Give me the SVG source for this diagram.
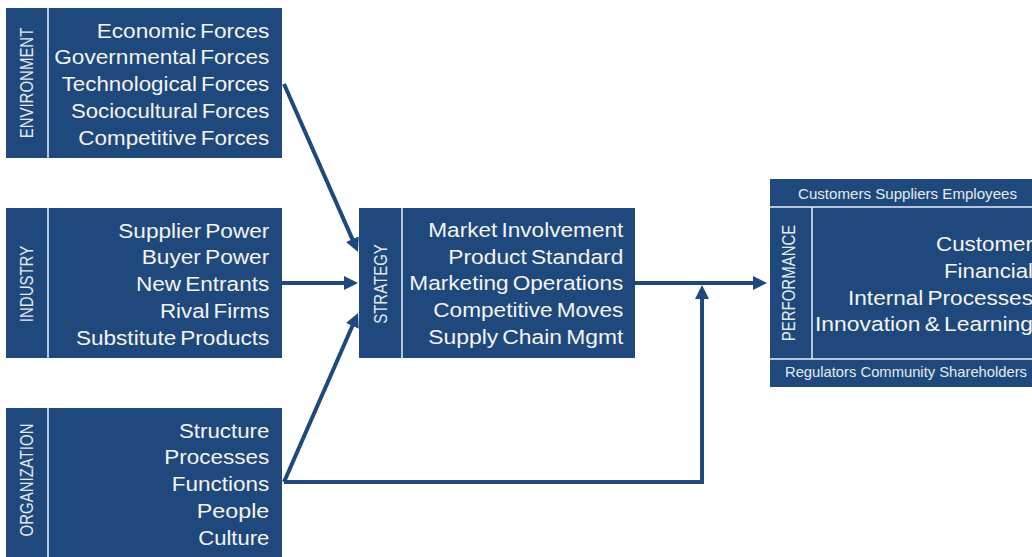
<svg xmlns="http://www.w3.org/2000/svg" width="1032" height="557" viewBox="0 0 1032 557">
<defs>
<style>
.box{fill:#1F497D;}
.div{stroke:#e8eef5;stroke-width:1.5;}
.t{font-family:"Liberation Sans",Arial,sans-serif;font-size:20.5px;fill:#f4f4f4;text-anchor:end;word-spacing:-2px;}
.v{font-family:"Liberation Sans",Arial,sans-serif;font-size:15px;fill:#e4e9f0;text-anchor:middle;}
.s{font-family:"Liberation Sans",Arial,sans-serif;font-size:14.5px;fill:#e4e9f0;text-anchor:middle;}
.c{fill:none;stroke:#1F497D;stroke-width:4;stroke-linejoin:miter;}
</style>
<marker id="ah" markerUnits="userSpaceOnUse" markerWidth="16" markerHeight="16" refX="4" refY="7" orient="auto">
<path d="M0,0 L14,7 L0,14 z" fill="#1F497D"/>
</marker>
</defs>
<rect width="1032" height="557" fill="#ffffff"/>

<g id="connectors">
<path class="c" d="M284,84 L354,242.9" marker-end="url(#ah)"/>
<path class="c" d="M282,283 L348,283" marker-end="url(#ah)"/>
<path class="c" d="M284,482 L354,322.2" marker-end="url(#ah)"/>
<path class="c" d="M635,283 L757,283" marker-end="url(#ah)"/>
<path class="c" d="M284,482 L702,482 L702,295" marker-end="url(#ah)"/>
</g>

<g id="environment">
<rect class="box" x="6" y="8" width="276" height="150"/>
<line class="div" x1="48" y1="8" x2="48" y2="158"/>
<text class="v" transform="translate(33,83) scale(1.2,1) rotate(-90)">ENVIRONMENT</text>
<text class="t" x="269.3" y="37.5" textLength="172.6" lengthAdjust="spacingAndGlyphs">Economic Forces</text>
<text class="t" x="269.3" y="64.3" textLength="215" lengthAdjust="spacingAndGlyphs">Governmental Forces</text>
<text class="t" x="269.3" y="91" textLength="207.6" lengthAdjust="spacingAndGlyphs">Technological Forces</text>
<text class="t" x="269.3" y="117.8" textLength="198.3" lengthAdjust="spacingAndGlyphs">Sociocultural Forces</text>
<text class="t" x="269.3" y="144.6" textLength="191" lengthAdjust="spacingAndGlyphs">Competitive Forces</text>
</g>

<g id="industry">
<rect class="box" x="6" y="208" width="276" height="150"/>
<line class="div" x1="48" y1="208" x2="48" y2="358"/>
<text class="v" transform="translate(33,284) scale(1.2,1) rotate(-90)">INDUSTRY</text>
<text class="t" x="269.3" y="237.5" textLength="151" lengthAdjust="spacingAndGlyphs">Supplier Power</text>
<text class="t" x="269.3" y="264.3" textLength="127.6" lengthAdjust="spacingAndGlyphs">Buyer Power</text>
<text class="t" x="269.3" y="291" textLength="133.3" lengthAdjust="spacingAndGlyphs">New Entrants</text>
<text class="t" x="269.3" y="317.8" textLength="109.3" lengthAdjust="spacingAndGlyphs">Rival Firms</text>
<text class="t" x="269.3" y="344.6" textLength="193.3" lengthAdjust="spacingAndGlyphs">Substitute Products</text>
</g>

<g id="organization">
<rect class="box" x="6" y="408" width="276" height="160"/>
<line class="div" x1="48" y1="408" x2="48" y2="557"/>
<text class="v" transform="translate(33,480) scale(1.2,1) rotate(-90)">ORGANIZATION</text>
<text class="t" x="269.3" y="437.5" textLength="90.3" lengthAdjust="spacingAndGlyphs">Structure</text>
<text class="t" x="269.3" y="464.3" textLength="105" lengthAdjust="spacingAndGlyphs">Processes</text>
<text class="t" x="269.3" y="491" textLength="97.6" lengthAdjust="spacingAndGlyphs">Functions</text>
<text class="t" x="269.3" y="517.8" textLength="72.6" lengthAdjust="spacingAndGlyphs">People</text>
<text class="t" x="269.3" y="544.6" textLength="71" lengthAdjust="spacingAndGlyphs">Culture</text>
</g>

<g id="strategy">
<rect class="box" x="359" y="208" width="276" height="150"/>
<line class="div" x1="402" y1="208" x2="402" y2="358"/>
<text class="v" transform="translate(387,284) scale(1.2,1) rotate(-90)">STRATEGY</text>
<text class="t" x="623.3" y="236.7" textLength="195" lengthAdjust="spacingAndGlyphs">Market Involvement</text>
<text class="t" x="623.3" y="263.5" textLength="175" lengthAdjust="spacingAndGlyphs">Product Standard</text>
<text class="t" x="623.3" y="290.3" textLength="214" lengthAdjust="spacingAndGlyphs">Marketing Operations</text>
<text class="t" x="623.3" y="317" textLength="190" lengthAdjust="spacingAndGlyphs">Competitive Moves</text>
<text class="t" x="623.3" y="343.8" textLength="195" lengthAdjust="spacingAndGlyphs">Supply Chain Mgmt</text>
</g>

<g id="performance">
<rect class="box" x="770" y="179" width="280" height="208"/>
<line class="div" x1="770" y1="207" x2="1050" y2="207"/>
<line class="div" x1="770" y1="359" x2="1050" y2="359"/>
<line class="div" x1="812" y1="207" x2="812" y2="359"/>
<text class="s" x="907.5" y="199" textLength="219" lengthAdjust="spacingAndGlyphs">Customers Suppliers Employees</text>
<text class="s" x="906" y="377" textLength="242" lengthAdjust="spacingAndGlyphs">Regulators Community Shareholders</text>
<text class="v" transform="translate(795,283) scale(1.2,1) rotate(-90)">PERFORMANCE</text>
<text class="t" x="1033" y="251" textLength="97" lengthAdjust="spacingAndGlyphs">Customer</text>
<text class="t" x="1033" y="277.8" textLength="89" lengthAdjust="spacingAndGlyphs">Financial</text>
<text class="t" x="1033" y="304.5" textLength="185" lengthAdjust="spacingAndGlyphs">Internal Processes</text>
<text class="t" x="1033" y="331" textLength="218" lengthAdjust="spacingAndGlyphs">Innovation &amp; Learning</text>
</g>
</svg>
